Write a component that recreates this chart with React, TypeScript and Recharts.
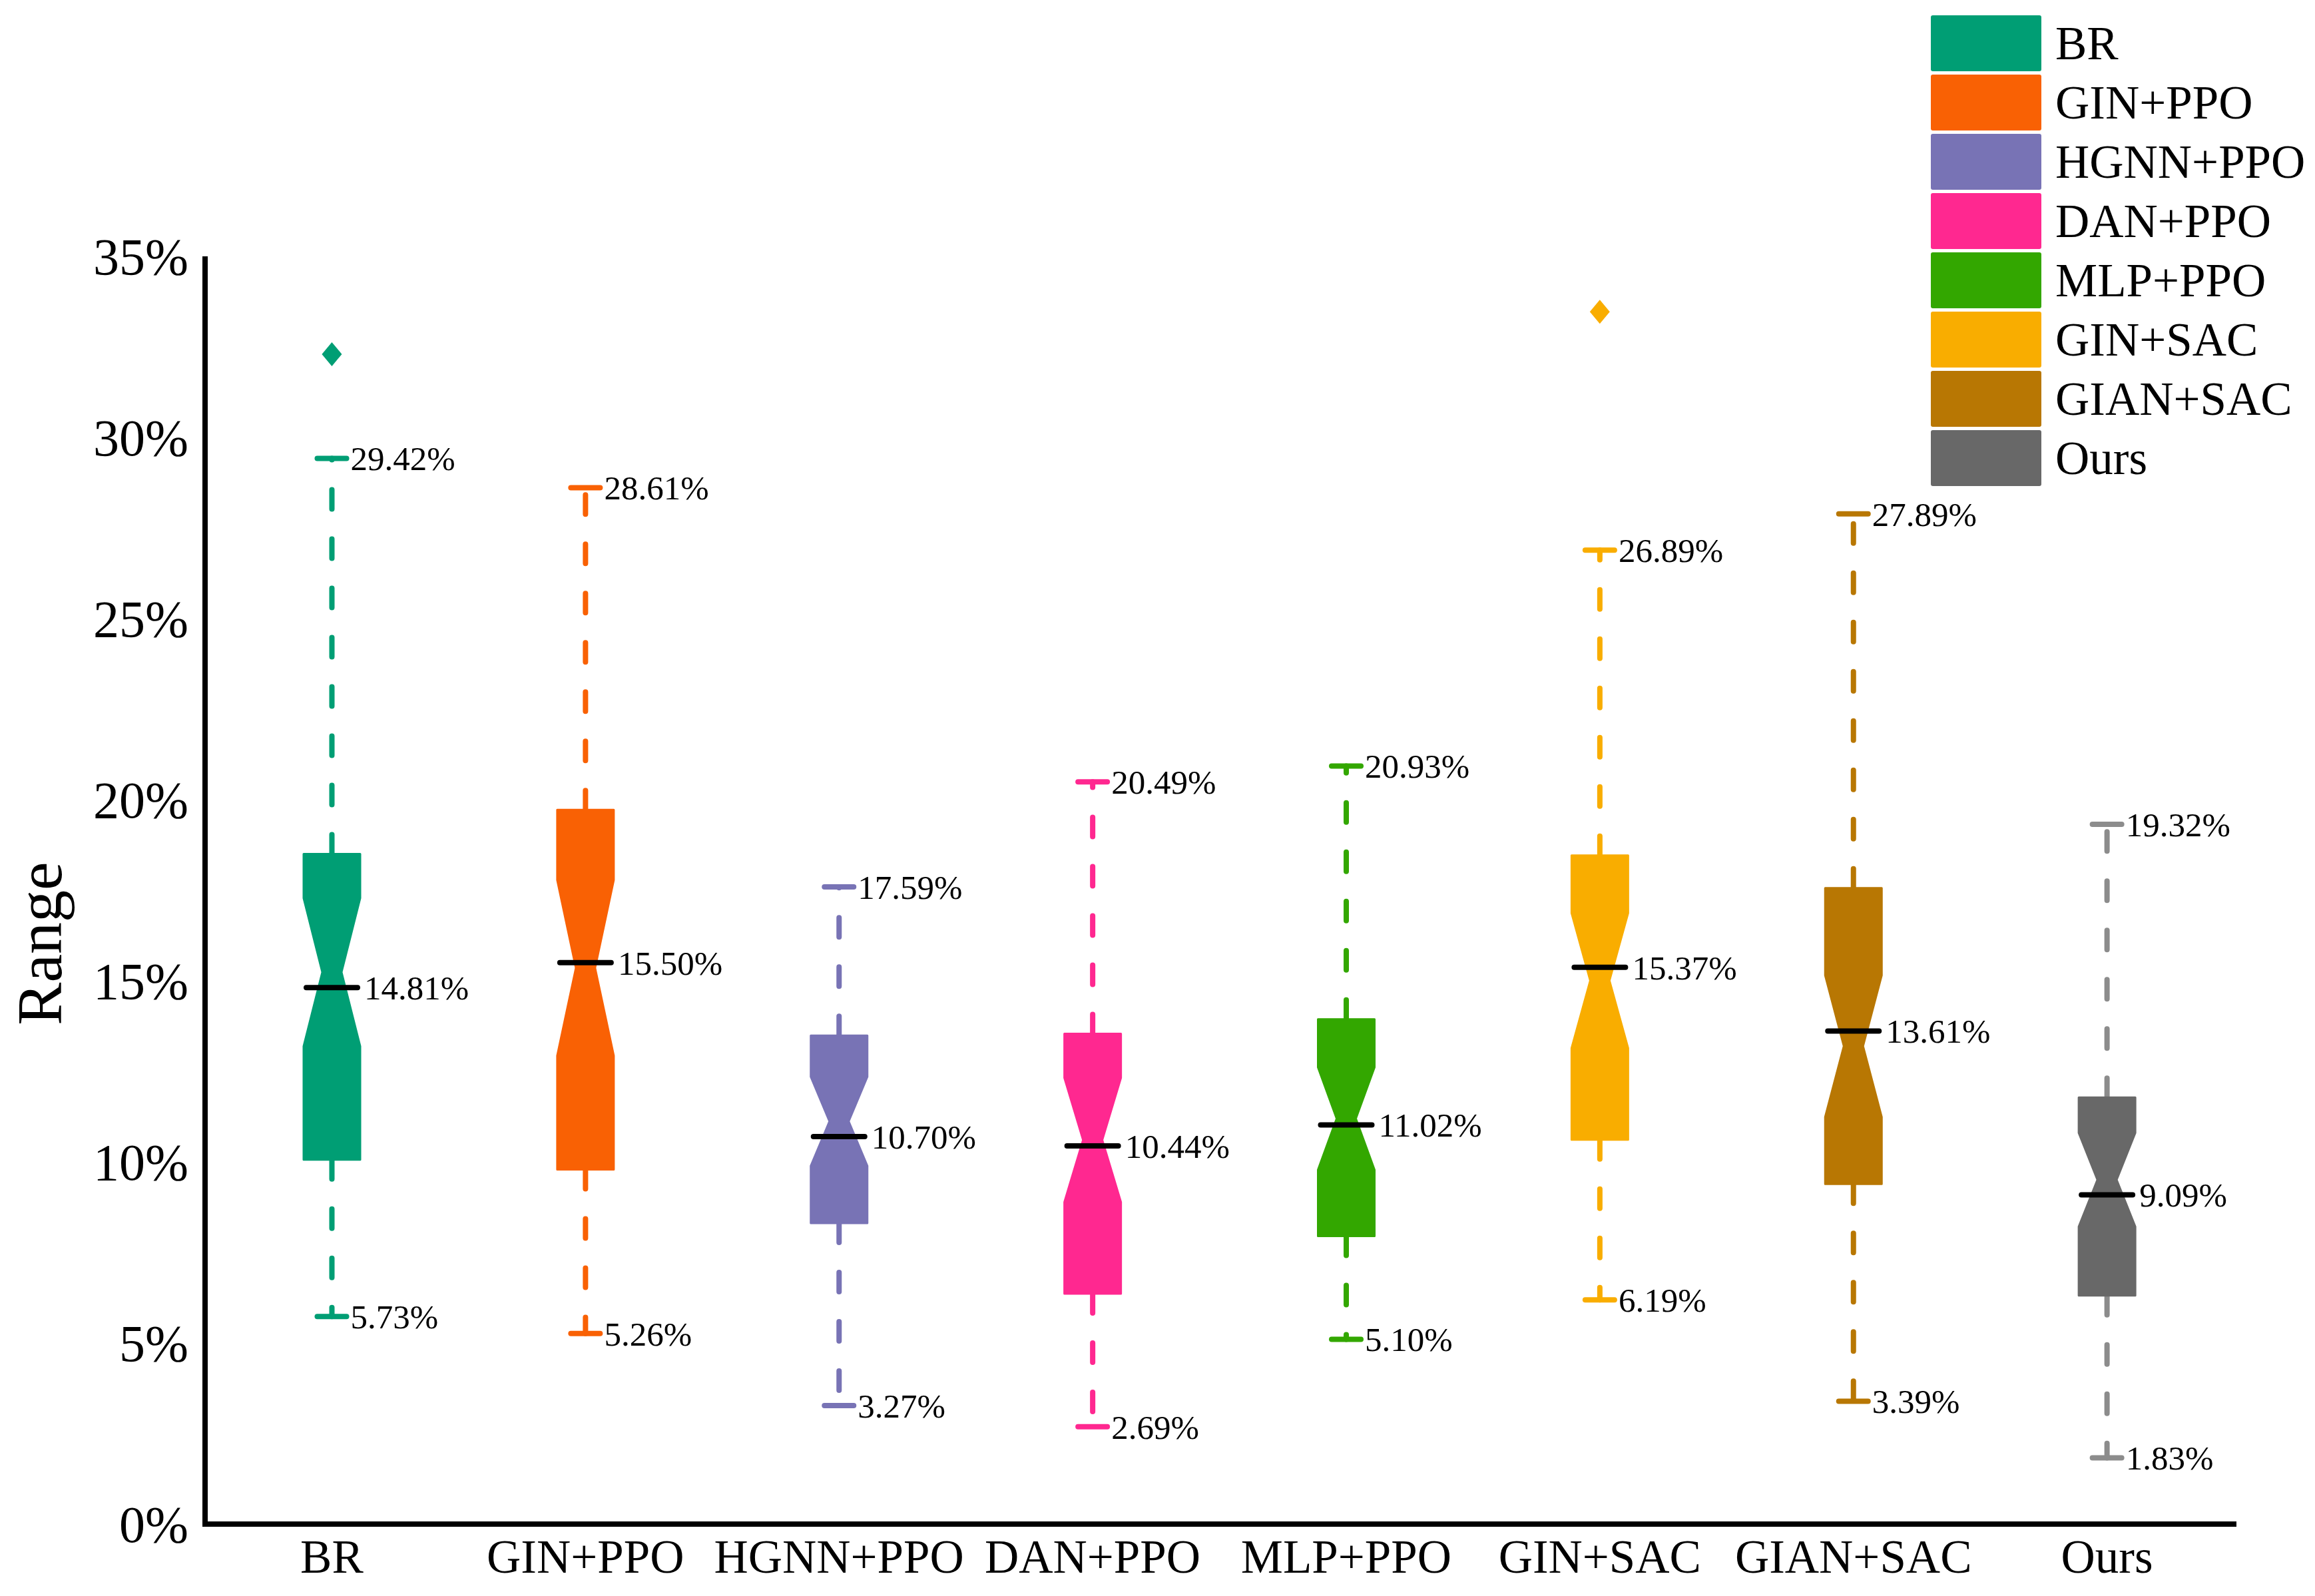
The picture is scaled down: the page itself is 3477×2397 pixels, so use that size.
import React from 'react';
import { ComposedChart, Bar, Scatter, XAxis, YAxis } from 'recharts';

// methods on the x axis
const categories = ['BR', 'GIN+PPO', 'HGNN+PPO', 'DAN+PPO', 'MLP+PPO', 'GIN+SAC', 'GIAN+SAC', 'Ours'];

// box statistics, in percent
const whiskerLow = [5.73, 5.26, 3.27, 2.69, 5.1, 6.19, 3.39, 1.83];
const q1 = [10.06, 9.79, 8.31, 6.36, 7.95, 10.61, 9.39, 6.31];
const notchLow = [13.19, 12.93, 9.89, 8.89, 9.78, 13.14, 11.24, 8.21];
const median = [14.81, 15.5, 10.7, 10.44, 11.02, 15.37, 13.61, 9.09];
const notchHigh = [17.28, 17.78, 12.35, 12.32, 12.61, 16.87, 15.15, 10.8];
const q3 = [18.5, 19.72, 13.49, 13.54, 13.94, 18.46, 17.56, 11.78];
const whiskerHigh = [29.42, 28.61, 17.59, 20.49, 20.93, 26.89, 27.89, 19.32];
const outliers: (number | null)[] = [32.3, null, null, null, null, 33.47, null, null];

const yTicks = [0, 5, 10, 15, 20, 25, 30, 35];

const boxColors = ['#009E74', '#F96104', '#7873B5', '#FF2890', '#33A700', '#F9AD00', '#B87703', '#686868'];
const whiskerColors = ['#009E74', '#F96104', '#7873B5', '#FF2890', '#33A700', '#F9AD00', '#B87703', '#8C8C8C'];

const data = categories.map((name, i) => ({
  name,
  range: [whiskerLow[i], whiskerHigh[i]],
  low: whiskerLow[i],
  q1: q1[i],
  nLo: notchLow[i],
  med: median[i],
  nHi: notchHigh[i],
  q3: q3[i],
  high: whiskerHigh[i],
  outlier: outliers[i],
  color: boxColors[i],
  wColor: whiskerColors[i],
}));

const FONT = '"Liberation Serif", "Times New Roman", serif';
const fmt = (v: number) => `${v.toFixed(2)}%`;

const BoxShape = (props: any) => {
  const { x, y, width, height, payload } = props;
  if (!payload) return null;
  const top = Math.min(y, y + height);
  const bottom = Math.max(y, y + height);
  // pixel position of a value, from the bar's own [low, high] extent
  const py = (v: number) => bottom - ((v - payload.low) / (payload.high - payload.low)) * (bottom - top);

  const cx = x + width / 2;
  const left = x;
  const right = x + width;
  const waistHalf = width * 0.17;
  const capHalf = 22;
  const yQ3 = py(payload.q3);
  const yQ1 = py(payload.q1);
  const yHi = py(payload.nHi);
  const yLo = py(payload.nLo);
  const yWaist = (yHi + yLo) / 2;
  const yMed = py(payload.med);
  const yMax = py(payload.high);
  const yMin = py(payload.low);

  const pts = [
    [left, yQ3], [right, yQ3], [right, yHi], [cx + waistHalf, yWaist], [right, yLo],
    [right, yQ1], [left, yQ1], [left, yLo], [cx - waistHalf, yWaist], [left, yHi],
  ].map((p) => p.join(',')).join(' ');

  const labelStyle = { fontFamily: FONT, fontSize: 51, fill: '#000' };

  return (
    <g>
      <line x1={cx} y1={yQ3} x2={cx} y2={yMax} stroke={payload.wColor} strokeWidth={8}
        strokeDasharray="29 45" strokeLinecap="round" />
      <line x1={cx} y1={yQ1} x2={cx} y2={yMin} stroke={payload.wColor} strokeWidth={8}
        strokeDasharray="29 45" strokeLinecap="round" />
      <line x1={cx - capHalf} y1={yMax} x2={cx + capHalf} y2={yMax} stroke={payload.wColor}
        strokeWidth={8} strokeLinecap="round" />
      <line x1={cx - capHalf} y1={yMin} x2={cx + capHalf} y2={yMin} stroke={payload.wColor}
        strokeWidth={8} strokeLinecap="round" />
      <polygon points={pts} fill={payload.color} stroke={payload.color} strokeWidth={3} strokeLinejoin="round" />
      <line x1={left + 4} y1={yMed} x2={right - 4} y2={yMed} stroke="#000" strokeWidth={8} strokeLinecap="round" />
      <text x={right + 6} y={yMed} dy="0.35em" {...labelStyle}>{fmt(payload.med)}</text>
      <text x={cx + capHalf + 6} y={yMax} dy="0.35em" {...labelStyle}>{fmt(payload.high)}</text>
      <text x={cx + capHalf + 6} y={yMin} dy="0.35em" {...labelStyle}>{fmt(payload.low)}</text>
    </g>
  );
};

const Diamond = (props: any) => {
  const { cx, cy, payload } = props;
  if (!payload || payload.outlier == null || cx == null || cy == null || isNaN(cy)) return <g />;
  const w = 15;
  const h = 18;
  return (
    <polygon points={`${cx},${cy - h} ${cx + w},${cy} ${cx},${cy + h} ${cx - w},${cy}`} fill={payload.color} />
  );
};

const XTick = (props: any) => {
  const { x, y, payload } = props;
  return (
    <text x={x} y={y + 73} textAnchor="middle" fontFamily={FONT} fontSize={71} fill="#000">
      {payload.value}
    </text>
  );
};

const YTick = (props: any) => {
  const { x, y, payload } = props;
  return (
    <text x={x - 25} y={y} dy={27} textAnchor="end" fontFamily={FONT} fontSize={78} fill="#000">
      {`${payload.value}%`}
    </text>
  );
};

const YLabel = (props: any) => {
  const vb = props.viewBox || { y: 385, height: 1904 };
  const cy = vb.y + vb.height / 2 + 80;
  const lx = 92;
  return (
    <text x={lx} y={cy} transform={`rotate(-90, ${lx}, ${cy})`} textAnchor="middle"
      fontFamily={FONT} fontSize={96} fill="#000">
      Range
    </text>
  );
};

const Legend = () => (
  <div style={{ position: 'absolute', left: 2900, top: 23 }}>
    {categories.map((c, i) => (
      <div key={c} style={{ display: 'flex', alignItems: 'center', height: 84, marginBottom: 5 }}>
        <div style={{ width: 166, height: 84, background: boxColors[i], borderRadius: 3 }} />
        <span style={{ marginLeft: 21, fontFamily: FONT, fontSize: 71, lineHeight: '84px', color: '#000' }}>{c}</span>
      </div>
    ))}
  </div>
);

export default function App() {
  return (
    <div style={{ position: 'absolute', left: 0, top: 0, width: 3477, height: 2397, background: '#fff' }}>
      <ComposedChart width={3477} height={2397} data={data}
        margin={{ top: 385, right: 122, bottom: 0, left: 0 }}>
        <XAxis dataKey="name" type="category" height={108} tickLine={false} tickSize={0} tickMargin={0}
          axisLine={{ stroke: '#000', strokeWidth: 8, strokeLinecap: 'square' }} tick={<XTick />} interval={0} />
        <YAxis type="number" domain={[0, 35]} ticks={yTicks} width={308} tickLine={false} tickSize={0}
          tickMargin={0} axisLine={{ stroke: '#000', strokeWidth: 8 }} tick={<YTick />} label={<YLabel />} />
        <Bar dataKey="range" barSize={85} shape={<BoxShape />} isAnimationActive={false} />
        <Scatter dataKey="outlier" shape={<Diamond />} isAnimationActive={false} />
      </ComposedChart>
      <Legend />
    </div>
  );
}
